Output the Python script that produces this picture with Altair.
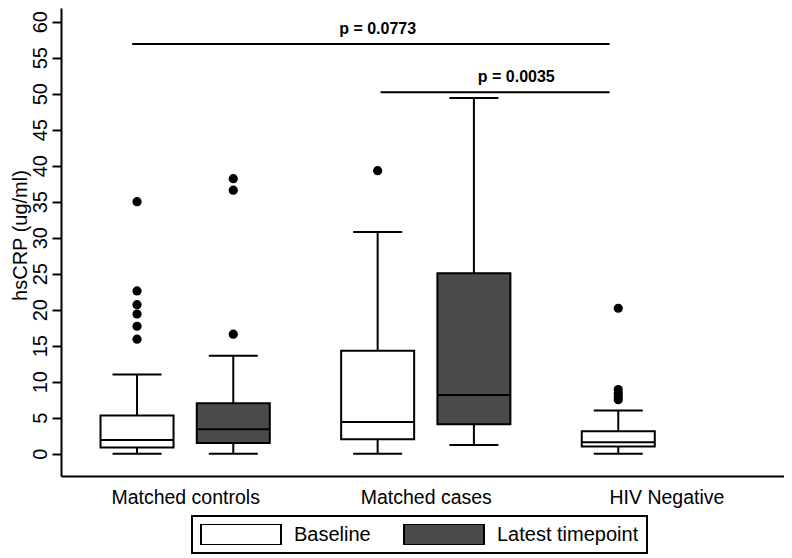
import altair as alt
import pandas as pd

# ---- data ----
group_order = ["Matched controls", "Matched cases", "HIV Negative"]
tp_order = ["Baseline", "Latest timepoint"]

groups = ["Matched controls", "Matched controls", "Matched cases", "Matched cases", "HIV Negative"]
timepoints = ["Baseline", "Latest timepoint", "Baseline", "Latest timepoint", "Baseline"]
lower = [0.0, 0.0, 0.0, 1.2, 0.0]
q1 = [0.85, 1.5, 2.0, 4.1, 1.0]
median = [1.9, 3.4, 4.4, 8.15, 1.6]
q3 = [5.3, 7.0, 14.3, 25.05, 3.1]
upper = [11.0, 13.6, 30.8, 49.4, 6.0]
outliers = [
    [35.0, 22.6, 20.7, 19.4, 17.7, 15.9],
    [38.2, 36.6, 16.6],
    [39.3],
    [],
    [20.2, 8.9, 8.4, 7.9, 7.5],
]

sig_labels = ["p = 0.0773", "p = 0.0035"]
sig_y = [56.9, 50.2]
sig_x_start = [-0.05, 2.53]
sig_x_end = [4.91, 4.91]
sig_label_x = [2.5, 3.94]
sig_label_y = [59.0, 52.3]

y_ticks = list(range(0, 61, 5))

FONT = "Liberation Sans"

# ---- tables ----
GROUP_STEP = 2.5

def slot(g, t):
    return group_order.index(g) * GROUP_STEP + tp_order.index(t)

x_label_pos = [i * GROUP_STEP + (len(tp_order) - 1) / 2 for i in range(len(group_order))]

box_df = pd.DataFrame({
    "group": groups, "timepoint": timepoints,
    "lower": lower, "q1": q1, "median": median, "q3": q3, "upper": upper,
})
box_df["pos"] = [slot(g, t) for g, t in zip(groups, timepoints)]

out_rows = []
for g, t, vals in zip(groups, timepoints, outliers):
    for v in vals:
        out_rows.append({"group": g, "timepoint": t, "value": v, "pos": slot(g, t)})
out_df = pd.DataFrame(out_rows)

sig_df = pd.DataFrame({
    "label": sig_labels, "y": sig_y, "xs": sig_x_start, "xe": sig_x_end,
    "lx": sig_label_x, "ly": sig_label_y,
})

xscale = alt.Scale(domain=[-0.738, 6.67], nice=False, zero=False)
yscale = alt.Scale(domain=[-3.10, 61.90], nice=False, zero=False)

label_expr = " : ".join(
    f"abs(datum.value - {p}) < 0.01 ? '{name}'" for p, name in zip(x_label_pos, group_order)
) + " : ''"

x_axis = alt.Axis(
    values=x_label_pos, labelExpr=label_expr, ticks=False, grid=False,
    domainColor="black", domainWidth=2, labelFontSize=19.5, labelFont=FONT,
    labelColor="black", labelPadding=12, labelBaseline="top", title=None,
    labelFlush=False, labelOverlap=False,
)
y_axis = alt.Axis(
    values=y_ticks, grid=False, domainColor="black", domainWidth=2,
    tickColor="black", tickWidth=2, tickSize=9,
    labelAngle=270, labelAlign="center", labelBaseline="alphabetic",
    labelPadding=6, labelFontSize=20, labelFont=FONT, labelColor="black",
    title="hsCRP (ug/ml)", titleFontSize=20, titleFont=FONT, titleFontWeight="normal",
    titleColor="black", titleAngle=270, titleX=-35, titleY=227,
    titleAlign="center", titleBaseline="alphabetic",
)

X = alt.X("pos:Q", scale=xscale, axis=x_axis)
Y = lambda f: alt.Y(f"{f}:Q", scale=yscale, axis=y_axis)

base = alt.Chart(box_df)

whisk_hi = base.mark_rule(color="black", strokeWidth=2).encode(x=X, y=Y("q3"), y2="upper:Q")
whisk_lo = base.mark_rule(color="black", strokeWidth=2).encode(x=X, y=Y("lower"), y2="q1:Q")

boxes = base.mark_bar(size=73, stroke="black", strokeWidth=2, opacity=1).encode(
    x=X, y=Y("q1"), y2="q3:Q",
    color=alt.Color(
        "timepoint:N",
        scale=alt.Scale(domain=tp_order, range=["white", "#4b4b4b"]),
        legend=alt.Legend(
            title=None, orient="none", legendX=131, legendY=508,
            direction="horizontal",
            symbolType="M-1,-0.2625H1V0.2625H-1Z", symbolSize=6400,
            symbolStrokeColor="black", symbolStrokeWidth=2, symbolOpacity=1,
            clipHeight=21, labelFontSize=20, labelFont=FONT, labelColor="black",
            labelOffset=12, columnPadding=32, labelLimit=0,
            labelExpr=f"datum.label == '{tp_order[-1]}' ? datum.label + '\u00a0\u00a0' : datum.label",
            strokeColor="black", padding=8,
        ),
    ),
)

med = base.mark_tick(orient="horizontal", size=73, thickness=2, color="black", opacity=1).encode(
    x=X, y=Y("median"))
cap_hi = base.mark_tick(orient="horizontal", size=49, thickness=2, color="black", opacity=1).encode(
    x=X, y=Y("upper"))
cap_lo = base.mark_tick(orient="horizontal", size=49, thickness=2, color="black", opacity=1).encode(
    x=X, y=Y("lower"))

pts = alt.Chart(out_df).mark_circle(size=85, color="black", opacity=1).encode(
    x=X, y=Y("value"))

sig_lines = alt.Chart(sig_df).mark_rule(color="black", strokeWidth=2).encode(
    x=alt.X("xs:Q", scale=xscale, axis=x_axis), x2="xe:Q", y=Y("y"))
sig_text = alt.Chart(sig_df).mark_text(
    font=FONT, fontSize=16, fontWeight="bold", color="black", baseline="middle"
).encode(x=alt.X("lx:Q", scale=xscale, axis=x_axis), y=Y("ly"), text="label:N")

chart = alt.layer(
    whisk_hi, whisk_lo, boxes, med, cap_hi, cap_lo, pts, sig_lines, sig_text
).properties(
    width=723, height=468,
    padding={"left": 53, "top": 0, "right": 0, "bottom": 78},
    autosize=alt.AutoSizeParams(type="none"),
    background="white",
).configure_view(stroke=None).configure_legend(strokeWidth=2)

chart.save("out.html", embed_options={"renderer": "svg", "actions": False})
